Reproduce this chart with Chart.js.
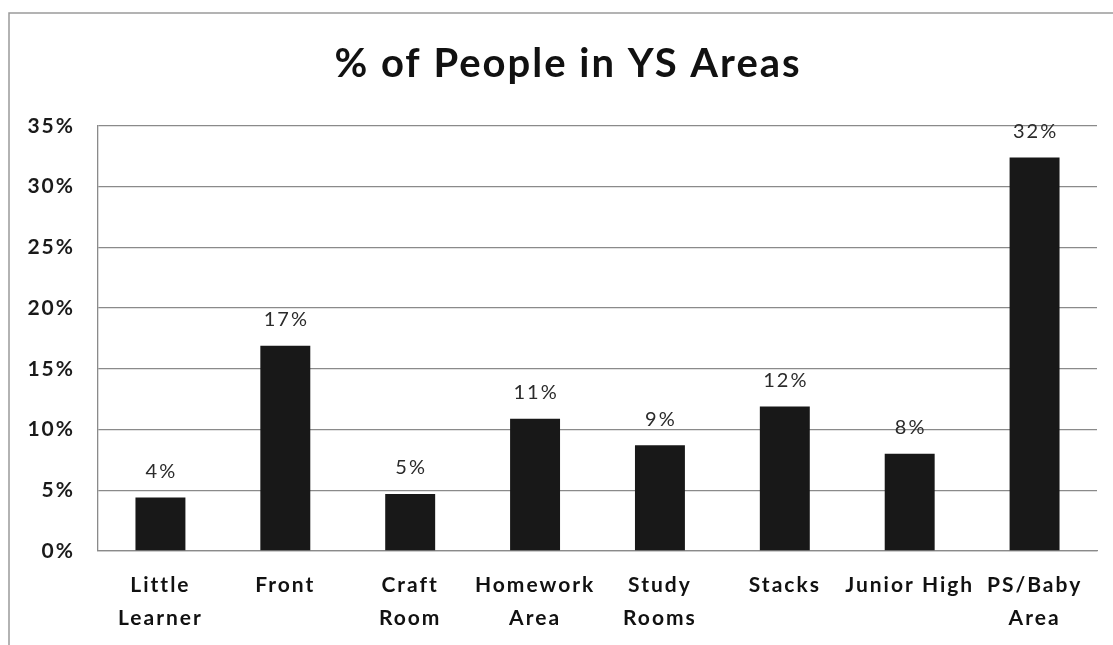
<!DOCTYPE html>
<html>
<head>
<meta charset="utf-8">
<title>% of People in YS Areas</title>
<script src="https://cdn.jsdelivr.net/npm/chart.js@4/dist/chart.umd.min.js"></script>
<style>
  html, body { margin: 0; padding: 0; background: #fff; }
  #wrap { position: relative; width: 1113px; height: 645px; }
</style>
</head>
<body>
<div id="wrap"><canvas id="c" width="1113" height="645"></canvas></div>
<script>
// Share of visitors counted in each Youth Services area (percent)
const areas = [
  ['Little', 'Learner'],
  'Front',
  ['Craft', 'Room'],
  ['Homework', 'Area'],
  ['Study', 'Rooms'],
  'Stacks',
  'Junior High',
  ['PS/Baby', 'Area']
];
const sharePct = [4.4, 16.9, 4.7, 10.9, 8.7, 11.9, 8.0, 32.4];
const yTicks = [0, 5, 10, 15, 20, 25, 30, 35];

const FONT = 'Lato, "Open Sans", "DejaVu Sans", sans-serif';

// Slightly open letter spacing for all chart text (re-applied because
// resizing the canvas resets the context state)
const spacing = {
  id: 'spacing',
  beforeLayout(chart) { if ('letterSpacing' in chart.ctx) chart.ctx.letterSpacing = '2px'; },
  beforeDraw(chart) { if ('letterSpacing' in chart.ctx) chart.ctx.letterSpacing = '2px'; }
};

// Centre the title over the plot rather than the full canvas
const titleOffset = {
  id: 'titleOffset',
  afterLayout(chart) {
    if (chart.titleBlock) chart.titleBlock.left += 39;
  }
};

// Outer frame and white page background
const framePlugin = {
  id: 'frame',
  beforeDraw(chart) {
    const ctx = chart.ctx;
    ctx.save();
    ctx.fillStyle = '#ffffff';
    ctx.fillRect(0, 0, chart.width, chart.height);
    ctx.strokeStyle = '#9a9a9a';
    ctx.lineWidth = 1.5;
    ctx.beginPath();
    ctx.moveTo(chart.width, 13);
    ctx.lineTo(9, 13);
    ctx.lineTo(9, chart.height);
    ctx.stroke();
    ctx.restore();
  }
};

// Rounded percentage written above each bar
const valueLabels = {
  id: 'valueLabels',
  afterDatasetsDraw(chart) {
    const ctx = chart.ctx;
    const meta = chart.getDatasetMeta(0);
    const data = chart.data.datasets[0].data;
    ctx.save();
    ctx.font = '400 20px ' + FONT;
    ctx.fillStyle = '#2b2b2b';
    ctx.textAlign = 'center';
    ctx.textBaseline = 'middle';
    meta.data.forEach((bar, i) => {
      ctx.fillText(Math.round(data[i]) + '%', bar.x + 1, bar.y - 26);
    });
    ctx.restore();
  }
};

new Chart(document.getElementById('c'), {
  type: 'bar',
  data: {
    labels: areas,
    datasets: [{
      data: sharePct,
      backgroundColor: '#181818',
      borderWidth: 0,
      barPercentage: 0.4,
      categoryPercentage: 1.0
    }]
  },
  options: {
    responsive: false,
    animation: false,
    layout: { padding: { left: 0, right: 16, top: 0, bottom: 0 } },
    plugins: {
      legend: { display: false },
      tooltip: { enabled: false },
      title: {
        display: true,
        text: '% of People in YS Areas',
        color: '#111111',
        font: { family: FONT, size: 40, weight: '700' },
        padding: { top: 40, bottom: 38 }
      }
    },
    scales: {
      x: {
        afterFit(scale) { scale.height = 94; },
        grid: { display: false, drawTicks: false },
        border: { display: true, color: '#8a8a8a', width: 1.3 },
        ticks: {
          color: '#111111',
          font: { family: FONT, size: 21, weight: '700', lineHeight: 1.6 },
          padding: 17,
          maxRotation: 0,
          autoSkip: false
        }
      },
      y: {
        min: 0,
        max: 35,
        afterBuildTicks(scale) {
          scale.ticks = yTicks.map(v => ({ value: v }));
        },
        afterFit(scale) { scale.width = 98; },
        grid: { color: '#8a8a8a', lineWidth: 1.3, drawTicks: false },
        border: { display: true, color: '#8a8a8a', width: 1.3 },
        ticks: {
          color: '#1a1a1a',
          font: { family: FONT, size: 21, weight: '700' },
          padding: 23,
          callback: v => v + '%'
        }
      }
    }
  },
  plugins: [spacing, titleOffset, framePlugin, valueLabels]
});
</script>
</body>
</html>
